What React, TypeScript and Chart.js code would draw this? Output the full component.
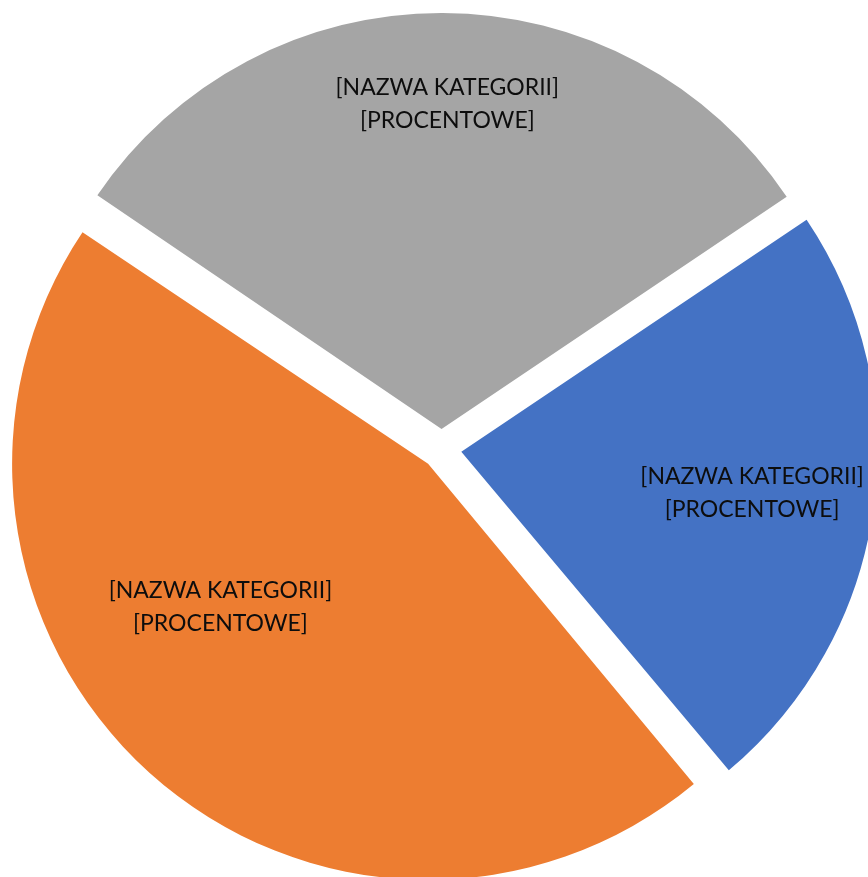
import React, { useEffect, useRef } from "react";
import { Chart, registerables } from "chart.js";

Chart.register(...registerables);

const categories = ["[NAZWA KATEGORII]", "[NAZWA KATEGORII]", "[NAZWA KATEGORII]"];
const values = [23.3, 45.6, 31.1];
const valueLabels = ["[PROCENTOWE]", "[PROCENTOWE]", "[PROCENTOWE]"];
const colors = ["#4472C4", "#ED7D31", "#A5A5A5"];

const RADIUS = 416;
const OFFSET = 80; // Chart.js v4 translates arcs by offset / 4
const LABEL_RADIUS = [0.706, 0.606, 0.781];
const LABEL_ANGLE_SHIFT = [0, 13.4, 0.9];
const FONT = "23px Lato, 'Open Sans', sans-serif";
const LINE_GAP = 33;

const fixRadiusPlugin = {
  id: "fixRadius",
  beforeDatasetsDraw(chart: any) {
    const meta = chart.getDatasetMeta(0);
    meta.data.forEach((arc: any) => {
      const circ = arc.circumference;
      const fix = 1 - Math.sin(Math.min(Math.PI, circ || 0));
      arc.outerRadius = RADIUS - (OFFSET / 4) * fix;
    });
  },
};

const labelPlugin = {
  id: "sliceLabels",
  afterDatasetsDraw(chart: any) {
    const ctx = chart.ctx;
    const meta = chart.getDatasetMeta(0);
    ctx.save();
    ctx.font = FONT;
    ctx.fillStyle = "#0d0d0d";
    ctx.textAlign = "center";
    ctx.textBaseline = "middle";
    meta.data.forEach((arc: any, i: number) => {
      const half = (arc.startAngle + arc.endAngle) / 2;
      const d = OFFSET / 4;
      const cx = arc.x + Math.cos(half) * d;
      const cy = arc.y + Math.sin(half) * d;
      const a = half + (LABEL_ANGLE_SHIFT[i] * Math.PI) / 180;
      const r = RADIUS * LABEL_RADIUS[i];
      const lx = cx + Math.cos(a) * r;
      const ly = cy + Math.sin(a) * r;
      ctx.fillText(categories[i], lx, ly - LINE_GAP / 2);
      ctx.fillText(valueLabels[i], lx, ly + LINE_GAP / 2);
    });
    ctx.restore();
  },
};

export default function App() {
  const ref = useRef<HTMLCanvasElement | null>(null);
  useEffect(() => {
    if (!ref.current) return;
    const chart = new Chart(ref.current, {
      type: "pie",
      data: {
        labels: categories,
        datasets: [
          {
            data: values,
            backgroundColor: colors,
            borderWidth: 0,
            offset: OFFSET,
            hoverOffset: 0,
          },
        ],
      },
      options: {
        responsive: false,
        animation: false,
        rotation: 56.1,
        radius: RADIUS,
        layout: { padding: { left: 15, top: 21, right: 0, bottom: 0 } },
        plugins: {
          legend: { display: false },
          tooltip: { enabled: false },
        },
        events: [],
      },
      plugins: [fixRadiusPlugin, labelPlugin],
    });
    return () => chart.destroy();
  }, []);
  return (
    <div style={{ position: "fixed", left: 0, top: 0, width: 868, height: 877, overflow: "hidden", background: "#fff" }}>
      <canvas ref={ref} width={868} height={877} style={{ display: "block" }} />
    </div>
  );
}
